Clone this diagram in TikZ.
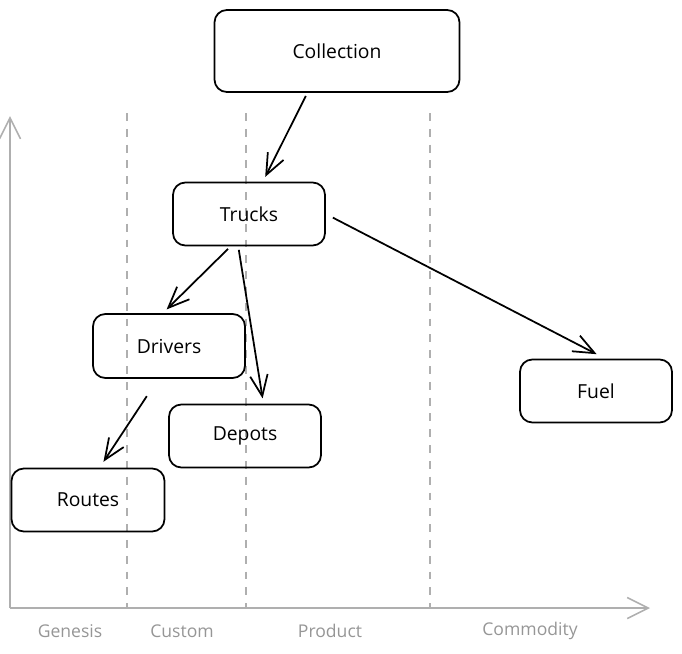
\documentclass[tikz,border=0pt]{standalone}
\usepackage{fontspec}
\setmainfont{Open Sans}
\usetikzlibrary{arrows.meta,calc}
\definecolor{axisgray}{RGB}{175,175,175}
\definecolor{labelgray}{RGB}{150,150,150}
\begin{document}
\begin{tikzpicture}[x=0.02cm,y=-0.02cm,
    box/.style={draw,line width=1pt,rounded corners=7pt,inner sep=0pt,
      font=\fontsize{11}{13}\selectfont},
    link/.style={line width=1pt,-{Straight Barb[length=12pt,width=10pt]},
      shorten <=2pt,shorten >=3pt},
    axis/.style={axisgray,line width=0.9pt,-{Straight Barb[length=12pt,width=12pt]}},
    lane/.style={axisgray,line width=0.9pt,dash pattern=on 4.5pt off 4.5pt},
    tag/.style={labelgray,font=\fontsize{10}{12}\selectfont}]
  \useasboundingbox (0,0) rectangle (682,653);
  % axes and evolution stages
  \draw[axis] (10,608) -- (10,116);
  \draw[axis] (10,608) -- (650,608);
  \foreach \x in {127,246,430}
    \draw[lane] (\x,113) -- (\x,608);
  \foreach \x/\t in {70/Genesis,182/Custom,330/Product,530/Commodity}
    \node[tag] (lbl\t) at (\x,631) {\t};
  % components
  \node[box,minimum width=4.9cm,minimum height=1.64cm] (coll) at (337,51) {Collection};
  \node[box,minimum width=3.04cm,minimum height=1.26cm] (trucks) at (249,214) {Trucks};
  \node[box,minimum width=3.04cm,minimum height=1.28cm] (drivers) at (169,346) {Drivers};
  \node[box,minimum width=3.04cm,minimum height=1.26cm] (depots) at (245,436) {Depots};
  \node[box,minimum width=3.06cm,minimum height=1.26cm] (routes) at (88,500) {Routes};
  \node[box,minimum width=3.04cm,minimum height=1.26cm] (fuel) at (596,391) {Fuel};
  % dependencies
  \draw[link] ($(coll.south west)!0.38!(coll.south east)$) -- ($(trucks.north west)!0.59!(trucks.north east)$);
  \draw[link] ($(trucks.south west)!0.38!(trucks.south east)$) -- ($(drivers.north west)!0.46!(drivers.north east)$);
  \draw[link] ($(trucks.south west)!0.43!(trucks.south east)$) -- ($(depots.north west)!0.62!(depots.north east)$);
  \draw[link,shorten <=4.5pt,shorten >=5.5pt] (trucks.east) -- ($(fuel.north west)!0.56!(fuel.north east)$);
  \draw[link,shorten <=11.8pt,shorten >=4pt] ($(drivers.south west)!0.43!(drivers.south east)$) -- ($(routes.north west)!0.575!(routes.north east)$);
\end{tikzpicture}
\end{document}
